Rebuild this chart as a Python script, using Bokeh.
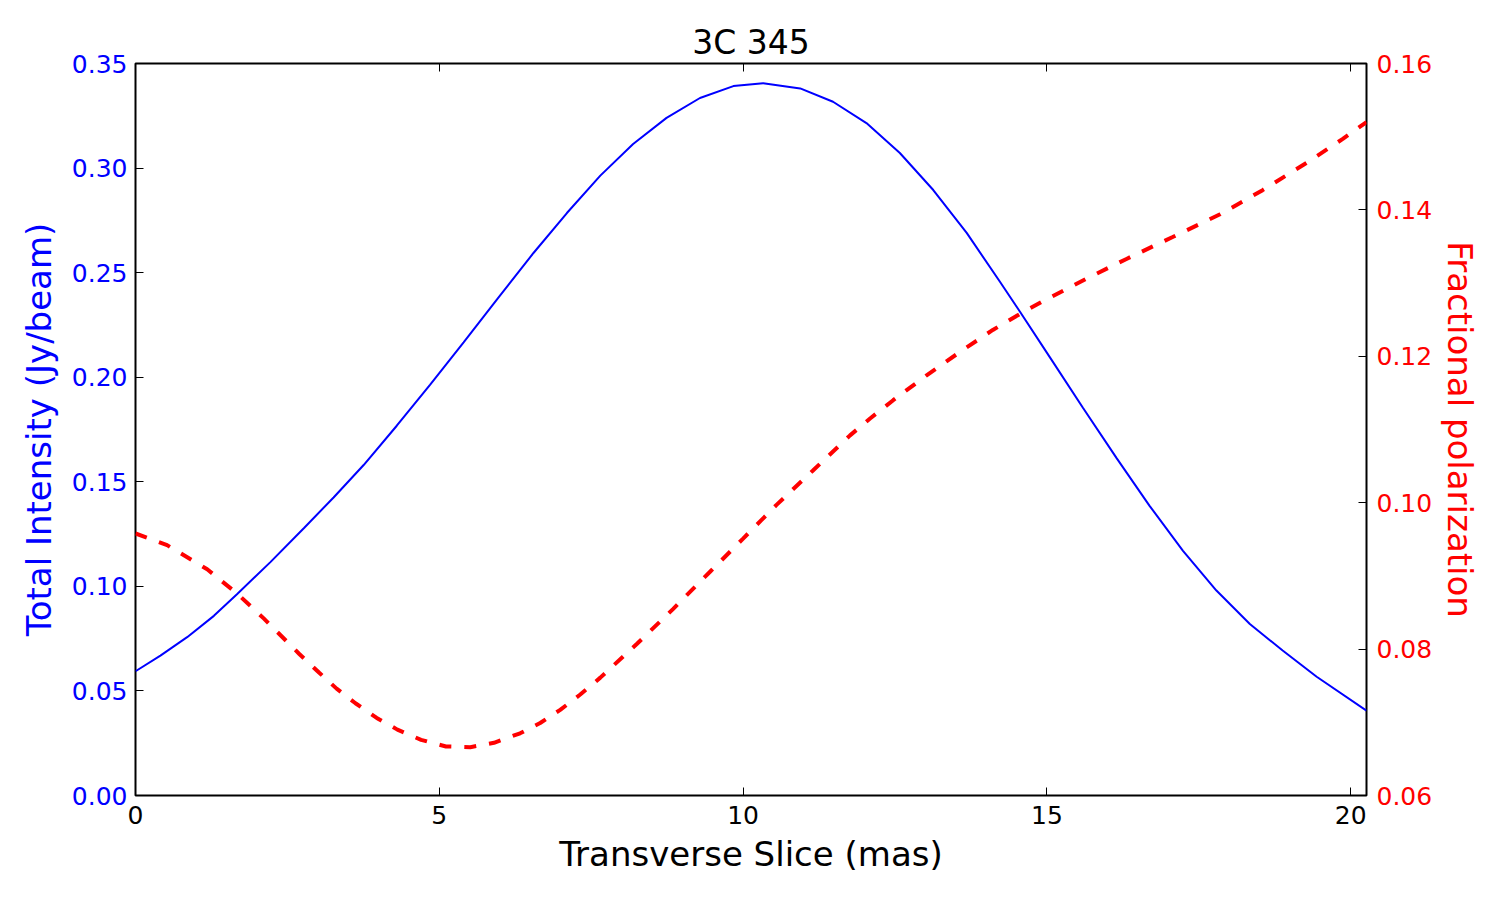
from bokeh.plotting import figure
from bokeh.models import (Range1d, LinearAxis, FixedTicker, PrintfTickFormatter,
                          CustomLabelingPolicy)
from bokeh.embed import file_html
from bokeh.resources import INLINE

# Transverse slice across the 3C 345 jet: positions in mas
intensity_x = [0.00, 0.41, 0.85, 1.29, 1.67, 2.22, 2.77, 3.26, 3.755, 4.30,
               4.85, 5.40, 5.95, 6.55, 7.10, 7.65, 8.19, 8.74, 9.29, 9.84,
               10.33, 10.94, 11.48, 12.03, 12.58, 13.13, 13.68, 14.23, 14.56,
               15.05, 15.59, 16.15, 16.69, 17.24, 17.79, 18.34, 18.88, 19.44,
               20.26]
# Total intensity (Jy/beam)
intensity = [0.0594, 0.0669, 0.0757, 0.0859, 0.0962, 0.1116, 0.1278, 0.1425,
             0.1580, 0.1768, 0.1965, 0.2167, 0.2372, 0.2594, 0.2785, 0.2964,
             0.3115, 0.3240, 0.3335, 0.3392, 0.3406, 0.3381, 0.3317, 0.3215,
             0.3072, 0.2895, 0.2690, 0.2455, 0.2312, 0.2095, 0.1855, 0.1612,
             0.1385, 0.1170, 0.0980, 0.0820, 0.0693, 0.0568, 0.0406]

pol_x = [0.00, 0.52, 1.18, 1.67, 2.11, 2.70, 3.02, 3.31, 3.62, 3.97, 4.31,
         4.70, 5.11, 5.51, 5.90, 6.33, 6.66, 6.99, 7.32, 7.65, 8.25, 8.85,
         9.46, 10.00, 10.55, 11.15, 11.76, 12.09, 12.47, 13.02, 13.57, 14.11,
         14.56, 14.93, 15.65, 16.31, 17.07, 17.85, 18.55, 19.27, 19.87, 20.26]
# Fractional polarization
frac_pol = [0.0958, 0.0942, 0.0909, 0.0876, 0.0842, 0.0793, 0.0768, 0.0746,
            0.0726, 0.0706, 0.0690, 0.0676, 0.0667, 0.0666, 0.0672, 0.0685,
            0.0699, 0.0717, 0.0738, 0.0761, 0.0807, 0.0855, 0.0906, 0.0951,
            0.0997, 0.1044, 0.1092, 0.1115, 0.1140, 0.1174, 0.1206, 0.1236,
            0.1258, 0.1275, 0.1306, 0.1333, 0.1363, 0.1394, 0.1427, 0.1464,
            0.1497, 0.1520]

x_ticks = [0, 5, 10, 15, 20]
intensity_ticks = [0.00, 0.05, 0.10, 0.15, 0.20, 0.25, 0.30, 0.35]
pol_ticks = [0.06, 0.08, 0.10, 0.12, 0.14, 0.16]

FONT = "DejaVu Sans"
BLUE = "#0000ff"
RED = "#ff0000"

p = figure(width=1500, height=900, output_backend="svg", toolbar_location=None,
           x_range=Range1d(0, 20.26), y_range=Range1d(0, 0.35),
           min_border_left=135, min_border_right=134,
           min_border_top=63, min_border_bottom=105,
           background_fill_color="white", border_fill_color="white")

p.extra_y_ranges = {"pol": Range1d(0.06, 0.16)}

p.title.text = "3C 345"
p.title.align = "center"
p.title.text_font = FONT
p.title.text_font_size = "33px"
p.title.text_font_style = "normal"
p.title.text_color = "black"
p.title.offset = 0
p.title.standoff = 4

p.xgrid.visible = False
p.ygrid.visible = False
p.outline_line_color = "black"
p.outline_line_width = 2
p.outline_line_alpha = 1.0


def style_axis(ax, color, ticks, fmt=None):
    ax.ticker = FixedTicker(ticks=ticks)
    if fmt:
        ax.formatter = PrintfTickFormatter(format=fmt)
    ax.axis_line_color = None
    ax.major_tick_in = 8
    ax.major_tick_out = 0
    ax.major_tick_line_color = "black"
    ax.major_tick_line_width = 1
    ax.minor_tick_line_color = None
    ax.major_label_text_font = FONT
    ax.major_label_text_font_size = "25px"
    ax.major_label_text_color = color
    ax.axis_label_text_font = FONT
    ax.axis_label_text_font_size = "34px"
    ax.axis_label_text_font_style = "normal"
    ax.axis_label_text_color = color


# bottom x axis
xax = p.xaxis[0]
style_axis(xax, "black", x_ticks)
xax.axis_label = "Transverse Slice (mas)"
xax.major_label_standoff = 10
xax.axis_label_standoff = 7

# left intensity axis
yax = p.yaxis[0]
style_axis(yax, BLUE, intensity_ticks, "%.2f")
yax.axis_label = "Total Intensity (Jy/beam)"
yax.major_label_standoff = 8
yax.axis_label_standoff = 10

# right polarization axis
rax = LinearAxis(y_range_name="pol")
style_axis(rax, RED, pol_ticks, "%.2f")
rax.axis_label = "Fractional polarization"
rax.major_label_standoff = 10
rax.axis_label_standoff = 5
p.add_layout(rax, "right")

# top axis: tick marks only, every label filtered out
tax = LinearAxis()
style_axis(tax, "black", x_ticks)
tax.major_label_text_font_size = "0px"
tax.major_label_standoff = 0
tax.major_label_policy = CustomLabelingPolicy(
    code="for (const i of indices) { indices.unset(i) } return indices")
p.add_layout(tax, "above")

p.line(intensity_x, intensity, line_color=BLUE, line_width=2)
p.line(pol_x, frac_pol, y_range_name="pol", line_color=RED, line_width=4,
       line_dash="12 13")

open("out.html", "w").write(file_html(p, INLINE))
